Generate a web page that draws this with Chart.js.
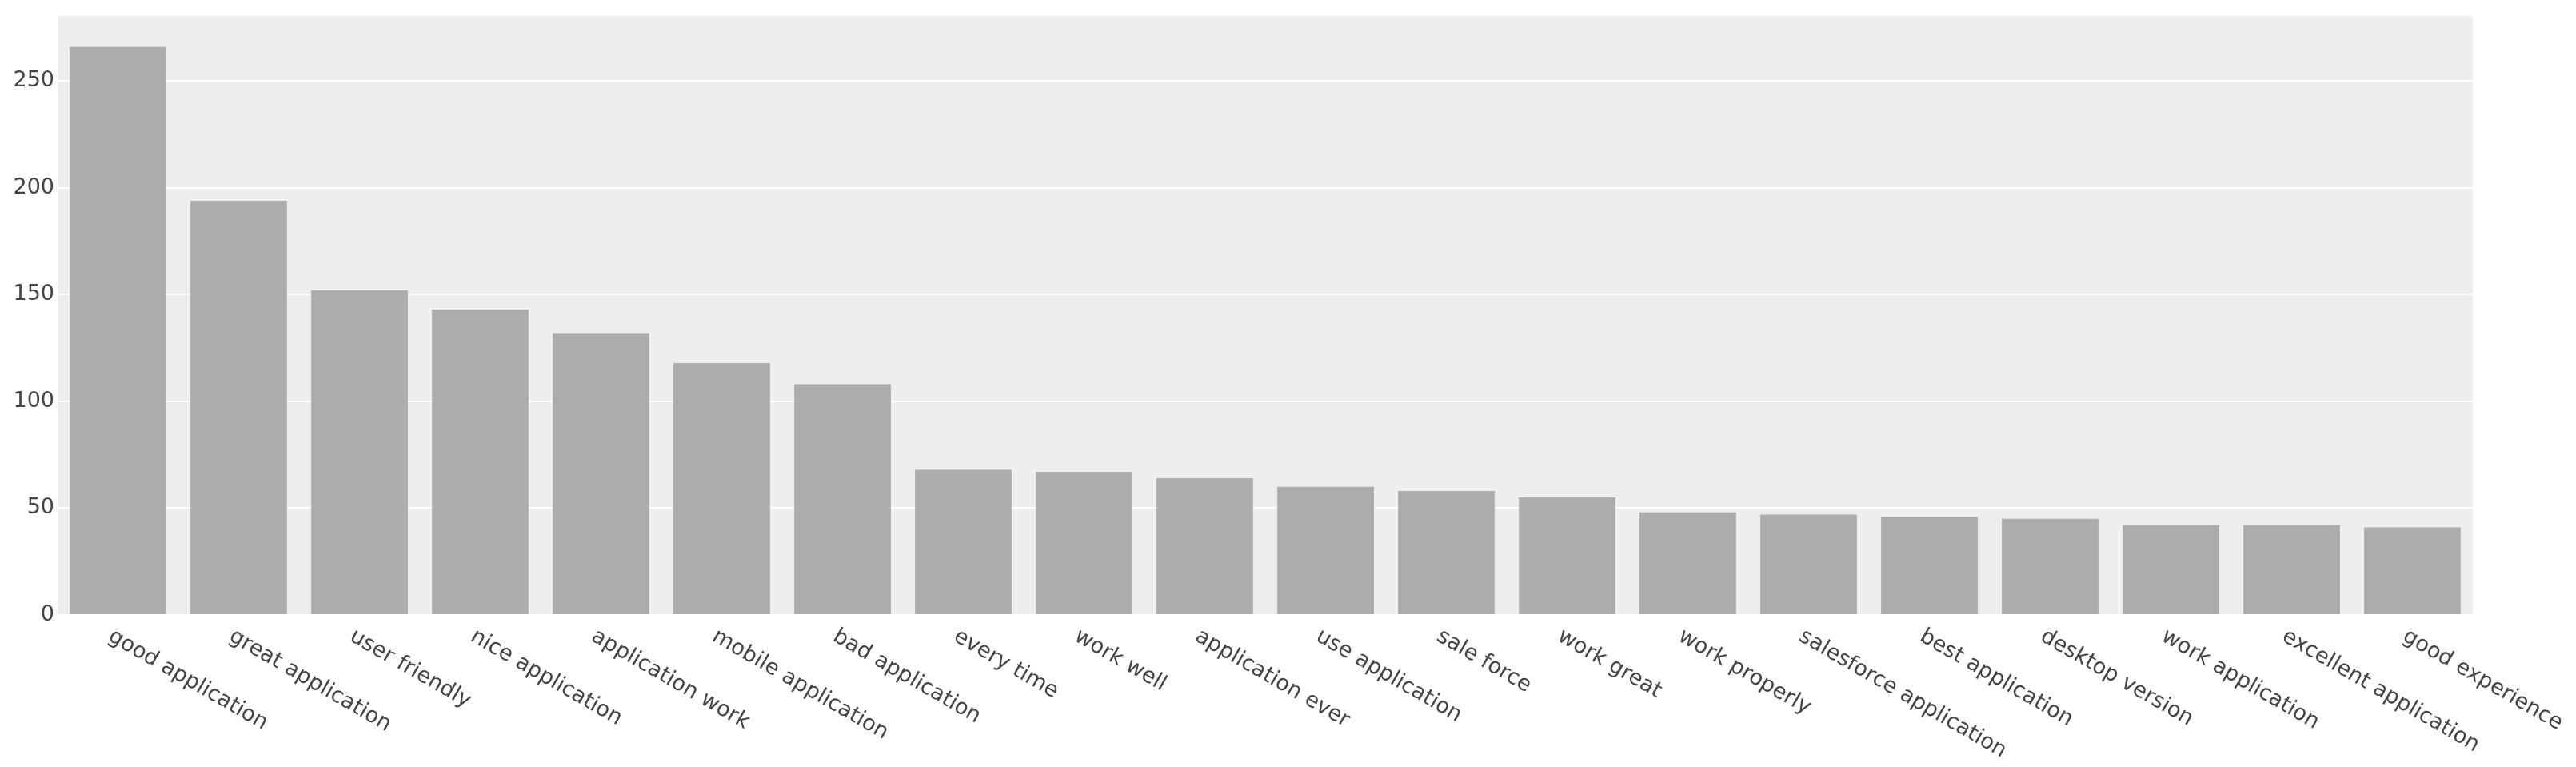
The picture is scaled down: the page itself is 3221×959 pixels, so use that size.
<!DOCTYPE html>
<html>
<head>
<meta charset="utf-8">
<script src="https://cdn.jsdelivr.net/npm/chart.js@4.4.0/dist/chart.umd.min.js"></script>
<style>
  html, body { margin: 0; padding: 0; background: #fff; }
  #wrap { width: 3221px; height: 959px; position: relative; }
</style>
</head>
<body>
<div id="wrap"><canvas id="chartCanvasBigrams"></canvas></div>
<script>
const categories = [
    "good application", "great application", "user friendly", "nice application",
    "application work", "mobile application", "bad application", "every time",
    "work well", "application ever", "use application", "sale force",
    "work great", "work properly", "salesforce application", "best application",
    "desktop version", "work application", "excellent application", "good experience"
];
const counts = [266, 194, 152, 143, 132, 118, 108, 68, 67, 64, 60, 58, 55, 48, 47, 46, 45, 42, 42, 41];
const yTicks = [0, 50, 100, 150, 200, 250];

// grey plot area like plotly
const plotBackground = {
    id: 'plotBackground',
    beforeDraw(chart) {
        const { ctx, chartArea: a } = chart;
        ctx.save();
        ctx.fillStyle = '#eeeeee';
        ctx.fillRect(a.left, a.top, a.width, a.height);
        ctx.restore();
    }
};

// x labels go down to the right from each tick, chart.js can't do that itself
const slantedLabels = {
    id: 'slantedLabels',
    afterDraw(chart) {
        const { ctx, chartArea } = chart;
        const xScale = chart.scales.x;
        ctx.save();
        ctx.font = '27px "DejaVu Sans"';
        ctx.fillStyle = '#444';
        ctx.textAlign = 'left';
        ctx.textBaseline = 'middle';
        categories.forEach((label, i) => {
            ctx.save();
            ctx.translate(xScale.getPixelForValue(i) - 10, chartArea.bottom + 25);
            ctx.rotate(Math.PI / 6);
            ctx.fillText(label, 0, 0);
            ctx.restore();
        });
        ctx.restore();
    }
};

const ctx = document.getElementById("chartCanvasBigrams").getContext("2d");
new Chart(ctx, {
    type: "bar",
    plugins: [plotBackground, slantedLabels],
    data: {
        labels: categories,
        datasets: [
            {
                label: "count",
                data: counts,
                backgroundColor: "#acacac",
                borderWidth: 0,
                categoryPercentage: 0.8,
                barPercentage: 1.0,
            },
        ],
    },
    options: {
        responsive: true,
        maintainAspectRatio: false,
        animation: false,
        layout: {
            padding: { top: 16, right: 129, left: 0, bottom: 0 }
        },
        plugins: {
            legend: { display: false },
            tooltip: { enabled: false },
        },
        scales: {
            x: {
                grid: { display: false },
                border: { display: false },
                ticks: { display: false },
                afterFit: (scale) => { scale.height = 190; },
            },
            y: {
                min: 0,
                max: 280.4,
                grid: { color: "#ffffff", lineWidth: 2, drawTicks: false },
                border: { display: false },
                ticks: {
                    padding: 4,
                    color: "#444",
                    font: { family: "DejaVu Sans", size: 27 },
                },
                afterBuildTicks: (scale) => { scale.ticks = yTicks.map((v) => ({ value: v })); },
                afterFit: (scale) => { scale.width = 72; },
            },
        },
    },
});
</script>
</body>
</html>
